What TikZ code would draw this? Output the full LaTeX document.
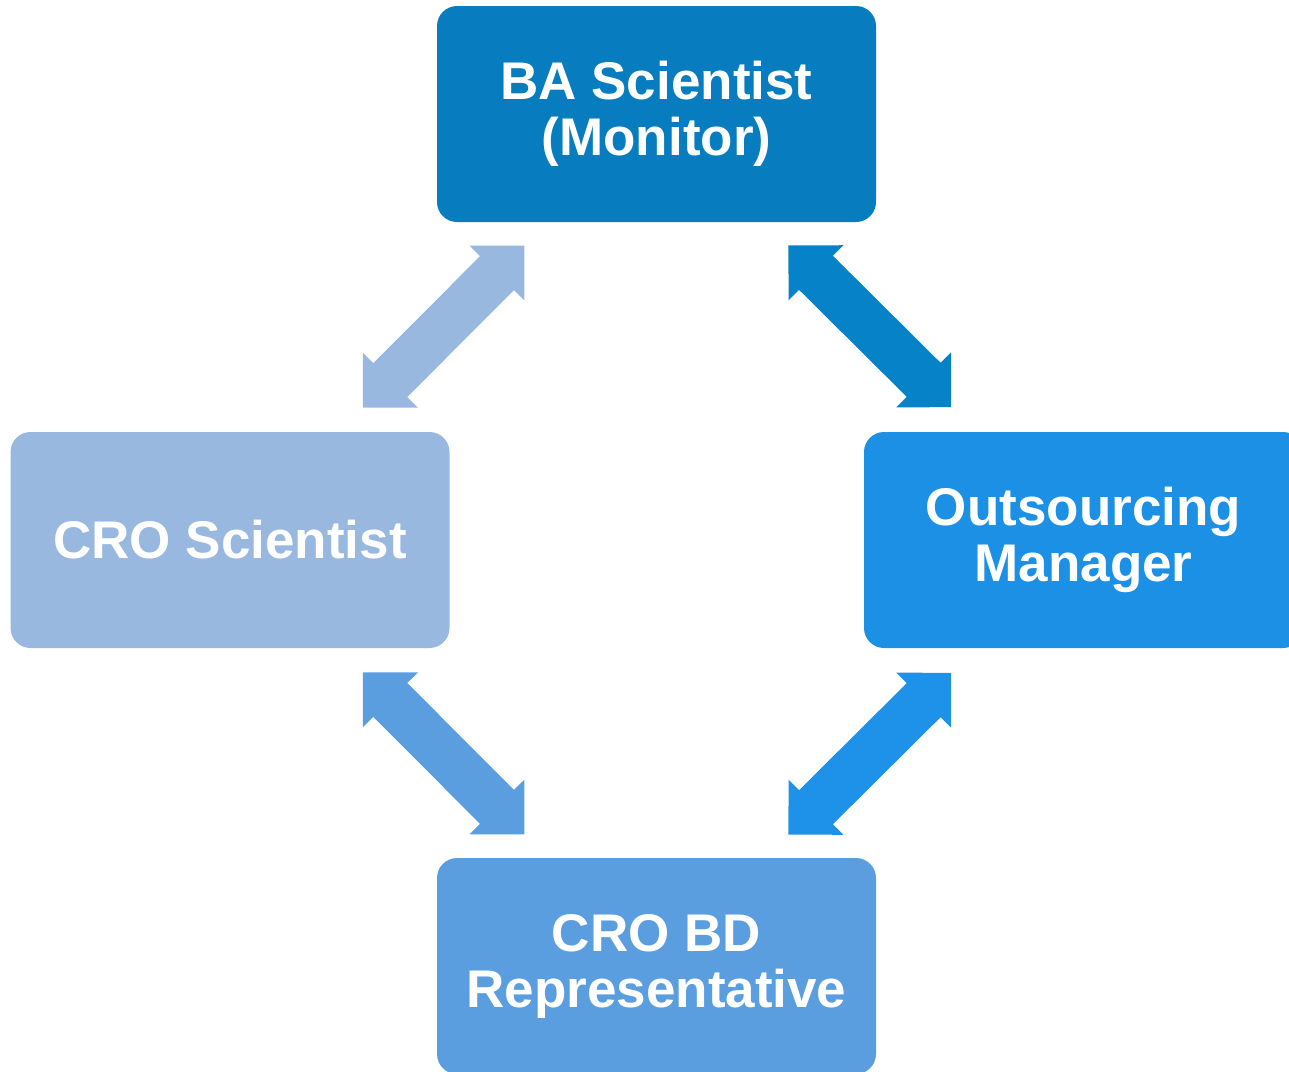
\documentclass[tikz,border=0pt]{standalone}
\usepackage{fontspec}
\setmainfont{Liberation Sans}
\usetikzlibrary{positioning,calc}

\definecolor{baBlue}{RGB}{7,124,190}
\definecolor{croBlue}{RGB}{152,184,224}
\definecolor{omBlue}{RGB}{27,144,229}
\definecolor{bdBlue}{RGB}{91,158,224}
\definecolor{linkBlue}{RGB}{5,130,200}
\definecolor{linkSky}{RGB}{29,146,232}

\newcommand{\linkarrow}[3]{%
\fill [#3] let \p1=(#1), \p2=(#2), \n1={atan2(\y2-\y1,\x2-\x1)}, \n2={veclen(\x2-\x1,\y2-\y1)} in
  [shift={(\p1)}, rotate=\n1] (0pt,0pt) -- (19.4pt,19.4pt) -- (19.4pt,12pt) -- ({\n2*1pt-19.4pt},12pt)
  -- ({\n2*1pt-19.4pt},19.4pt) -- ({\n2*1pt},0pt) -- ({\n2*1pt-19.4pt},-19.4pt) -- ({\n2*1pt-19.4pt},-12pt)
  -- (19.4pt,-12pt) -- (19.4pt,-19.4pt) -- cycle;}

\begin{document}
\begin{tikzpicture}[x=0.5pt,y=0.5pt]
\tikzset{role/.style={rectangle, rounded corners=10pt, minimum width=219.5pt, minimum height=108pt,
  inner sep=0pt, align=center, text=white, font=\fontsize{26.5}{28}\selectfont\bfseries}}
\clip (0,0) rectangle (1289,-1071);
\node [role, fill=baBlue] (ba) at (656.5,-114) {BA Scientist\\(Monitor)};
\node [role, fill=croBlue] (cro) at (230,-540) {CRO Scientist};
\node [role, fill=omBlue] (om) at (1083.5,-540) {Outsourcing\\Manager};
\node [role, fill=bdBlue] (bd) at (656.5,-966) {CRO BD\\Representative};
\coordinate (ba-cro) at ($(ba.south west)+(88,-23)$);
\coordinate (cro-ba) at ($(cro.north east)+(-87,24)$);
\coordinate (ba-om) at ($(ba.south east)+(-88,-23)$);
\coordinate (om-ba) at ($(om.north west)+(88,24)$);
\coordinate (cro-bd) at ($(cro.south east)+(-87,-24)$);
\coordinate (bd-cro) at ($(bd.north west)+(88,23)$);
\coordinate (om-bd) at ($(om.south west)+(88,-24)$);
\coordinate (bd-om) at ($(bd.north east)+(-88,23)$);
\linkarrow{cro-ba}{ba-cro}{croBlue}
\linkarrow{ba-om}{om-ba}{linkBlue}
\linkarrow{cro-bd}{bd-cro}{bdBlue}
\linkarrow{bd-om}{om-bd}{linkSky}
\end{tikzpicture}
\end{document}
